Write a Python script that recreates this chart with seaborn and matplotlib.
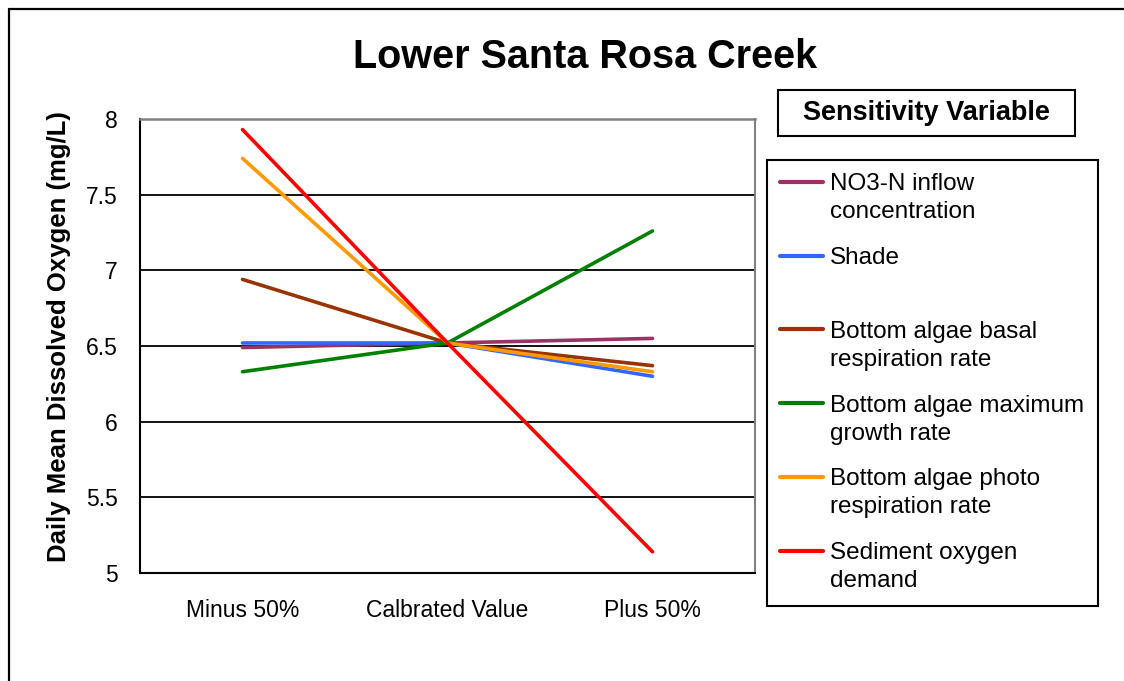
import pandas as pd
import matplotlib.pyplot as plt
import seaborn as sns
from matplotlib.lines import Line2D
from matplotlib.patches import Rectangle

categories = ["Minus 50%", "Calbrated Value", "Plus 50%"]
variables = ["NO3-N inflow\nconcentration", "Shade\n ",
             "Bottom algae basal\nrespiration rate", "Bottom algae maximum\ngrowth rate",
             "Bottom algae photo\nrespiration rate", "Sediment oxygen\ndemand"]
no3 = [6.49, 6.52, 6.55]
shade = [6.52, 6.52, 6.30]
basal = [6.94, 6.52, 6.37]
growth = [6.33, 6.52, 7.26]
photo = [7.74, 6.52, 6.33]
sod = [7.93, 6.52, 5.14]
colors = ["#993366", "#3366FF", "#993300", "#008000", "#FF9900", "#FF0000"]

rows = []
for var, vals in zip(variables, [no3, shade, basal, growth, photo, sod]):
    for cat, v in zip(categories, vals):
        rows.append({"variable": var, "case": cat, "do": v})
df = pd.DataFrame(rows)

sns.set_style("white")
plt.rcParams["font.family"] = ["Liberation Sans", "DejaVu Sans"]
plt.rcParams["text.color"] = "black"
plt.rcParams["axes.labelcolor"] = "black"
plt.rcParams["xtick.color"] = "black"
plt.rcParams["ytick.color"] = "black"

fig = plt.figure(figsize=(11.24, 6.81), dpi=100)
ax = fig.add_axes([140 / 1124, 1 - 573 / 681, 615 / 1124, 454 / 681])

sns.lineplot(data=df, x="case", y="do", hue="variable", palette=dict(zip(variables, colors)),
             sort=False, linewidth=2.6, ax=ax)

ax.set_xlim(-0.5, 2.5)
ax.set_ylim(5, 8)
ax.set_yticks([5, 5.5, 6, 6.5, 7, 7.5, 8])
ax.set_yticklabels(["5", "5.5", "6", "6.5", "7", "7.5", "8"])
ax.set_xticks([-0.5, 0.5, 1.5, 2.5])
ax.set_xticklabels([])
ax.set_xticks([0, 1, 2], minor=True)
ax.set_xticklabels(categories, minor=True)
ax.tick_params(axis="x", which="major", direction="out", length=7, width=1.3, color="black")
ax.tick_params(axis="x", which="minor", length=0, pad=19, labelsize=16.5)
ax.tick_params(axis="y", direction="out", length=7, width=1.3, color="black", pad=9, labelsize=16.5)
ax.set_xlabel("")
ax.set_ylabel("Daily Mean Dissolved Oxygen (mg/L)", fontsize=18.5, fontweight="bold")
ax.yaxis.set_label_coords(-0.112, 0.52)

ax.yaxis.grid(True, color="black", linewidth=1.3)
ax.set_axisbelow(True)
ax.spines["left"].set_color("black")
ax.spines["bottom"].set_color("black")
ax.spines["left"].set_linewidth(1.5)
ax.spines["bottom"].set_linewidth(1.5)
ax.spines["top"].set_color("#808080")
ax.spines["right"].set_color("#808080")
ax.spines["top"].set_linewidth(1.8)
ax.spines["right"].set_linewidth(1.5)

fig.text(585 / 1124, 1 - 57 / 681, "Lower Santa Rosa Creek", ha="center", va="center",
         fontsize=28.5, fontweight="bold")

# legend title box
fig.add_artist(Rectangle((778 / 1124, 1 - 136 / 681), 297 / 1124, 46 / 681,
                         transform=fig.transFigure, fill=False, edgecolor="black", linewidth=1.5))
fig.text(926.5 / 1124, 1 - 113 / 681, "Sensitivity Variable", ha="center", va="center",
         fontsize=19.5, fontweight="bold")

h, l = ax.get_legend_handles_labels()
leg = ax.legend(h, l, loc="upper left", bbox_to_anchor=(767 / 1124, 1 - 160 / 681),
                bbox_transform=fig.transFigure, fontsize=17.5, frameon=True, fancybox=False,
                edgecolor="black", framealpha=1, handlelength=1.75, handletextpad=0.3,
                labelspacing=0.98, borderpad=0.55, borderaxespad=0)
leg.get_frame().set_linewidth(1.5)
for t in leg.get_texts():
    t.set_linespacing(1.35)
for line in leg.get_lines():
    line.set_linewidth(3)
for col in leg._legend_handle_box.get_children():
    for item in col.get_children():
        item.align = "top"

# outer chart border
fig.add_artist(Line2D([8.5 / 1124, 8.5 / 1124], [0, 1 - 8.5 / 681], transform=fig.transFigure,
                      color="black", linewidth=1.6))
fig.add_artist(Line2D([8.5 / 1124, 1], [1 - 8.5 / 681, 1 - 8.5 / 681], transform=fig.transFigure,
                      color="black", linewidth=1.6))

fig.savefig("out.png", dpi=100, facecolor="white")
